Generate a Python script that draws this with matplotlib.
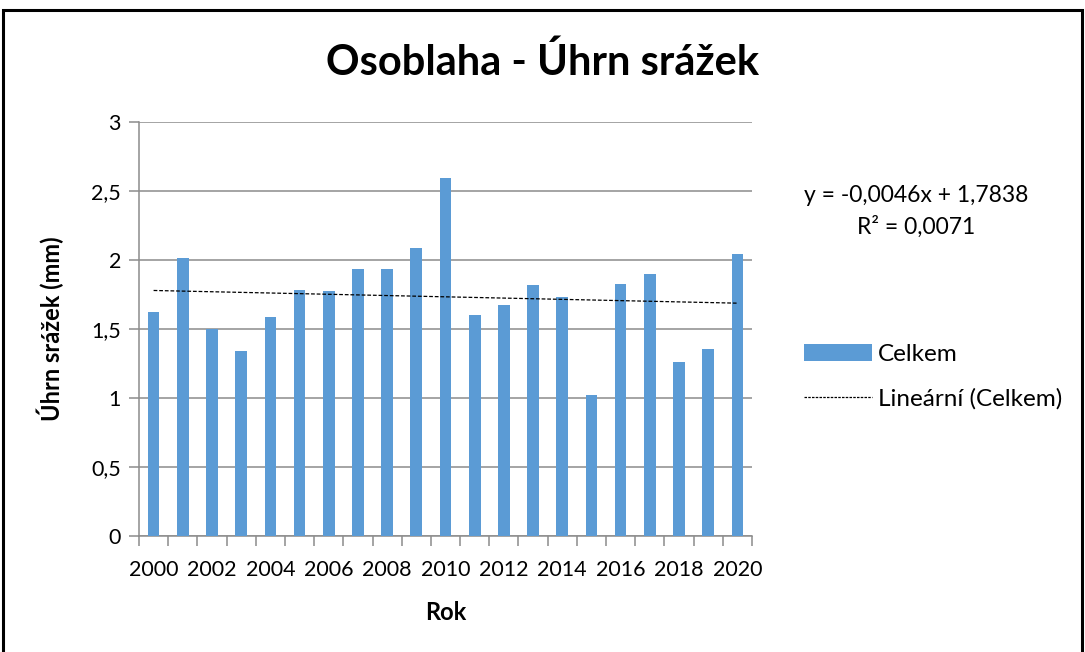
import numpy as np
import matplotlib
matplotlib.use("Agg")
import matplotlib.pyplot as plt
from matplotlib.patches import Rectangle, Patch
from matplotlib.lines import Line2D

plt.rcParams['font.family'] = ['Lato', 'DejaVu Sans']

# data
years = list(range(2000, 2021))
srazky = [1.622, 2.014, 1.501, 1.337, 1.588, 1.782, 1.774, 1.934, 1.932, 2.086,
          2.591, 1.603, 1.673, 1.818, 1.731, 1.022, 1.825, 1.900, 1.264, 1.356, 2.047]
trend_slope = -0.0046
trend_intercept = 1.7838
trend_r2 = 0.0071

bar_color = '#5B9BD5'
grid_color = '#8C8C8C'

fig = plt.figure(figsize=(10.85, 6.52), dpi=100)
ax = fig.add_axes([139 / 1085, 1 - 536 / 652, (752 - 139) / 1085, (536 - 122) / 652])

x = np.arange(len(years))
ax.bar(x, srazky, width=0.4, color=bar_color, zorder=3)

# linear trend as Excel shows it (x = 1..n)
xt = np.arange(1, len(years) + 1)
ax.plot(x, trend_slope * xt + trend_intercept, color='black', lw=0.9,
        ls=(0, (3, 1.5)), zorder=4)

ax.set_xlim(-0.5, len(years) - 0.5)
ax.set_ylim(0, 3)
ax.set_yticks(np.arange(0, 3.01, 0.5))
ax.set_yticklabels(['0', '0,5', '1', '1,5', '2', '2,5', '3'])
ax.yaxis.grid(True, color=grid_color, lw=1.1, zorder=0)

ax.set_xticks(x[::2])
ax.set_xticklabels([str(y) for y in years[::2]])
ax.set_xticks(np.arange(-0.5, len(years), 1), minor=True)
ax.tick_params(axis='x', which='major', length=0, pad=17, labelsize=15.5)
ax.tick_params(axis='x', which='minor', length=7, color=grid_color, width=1.1)
ax.tick_params(axis='y', length=7, color=grid_color, width=1.1, labelsize=15.5, pad=6)

for s in ['top', 'right']:
    ax.spines[s].set_visible(False)
for s in ['left', 'bottom']:
    ax.spines[s].set_color(grid_color)
    ax.spines[s].set_linewidth(1.1)

ax.set_xlabel('Rok', fontsize=17, fontweight='bold', va='center')
ax.set_ylabel('Úhrn srážek (mm)', fontsize=17, fontweight='bold', va='center')
ax.xaxis.set_label_coords(0.5, (536 - 612) / 414)
ax.yaxis.set_label_coords((50 - 139) / 613, 0.5)

fig.text(0.5, 1 - 62 / 652, 'Osoblaha - Úhrn srážek', ha='center', va='center',
         fontsize=30, fontweight='bold')

fig.text(916 / 1085, 1 - 196 / 652, 'y = -0,0046x + 1,7838', ha='center', va='center',
         fontsize=16.5)
fig.text(916 / 1085, 1 - 227 / 652, 'R² = 0,0071', ha='center', va='center',
         fontsize=16.5)

handles = [Patch(facecolor=bar_color, edgecolor='none'),
           Line2D([0], [0], color='black', lw=0.9, ls=(0, (2, 1)))]
fig.legend(handles, ['Celkem', 'Lineární (Celkem)'], loc='center left',
           bbox_to_anchor=(804 / 1085, 1 - 377 / 652), frameon=False, fontsize=17.5,
           handlelength=2.8, handleheight=0.7, handletextpad=0.25, labelspacing=0.95,
           borderpad=0, borderaxespad=0)

fig.patches.append(Rectangle((3 / 1085, -0.02), 1079 / 1085, 1.02 - 10 / 652,
                             transform=fig.transFigure, fill=False, ec='black', lw=2.2))

fig.savefig('out.png', dpi=100)
